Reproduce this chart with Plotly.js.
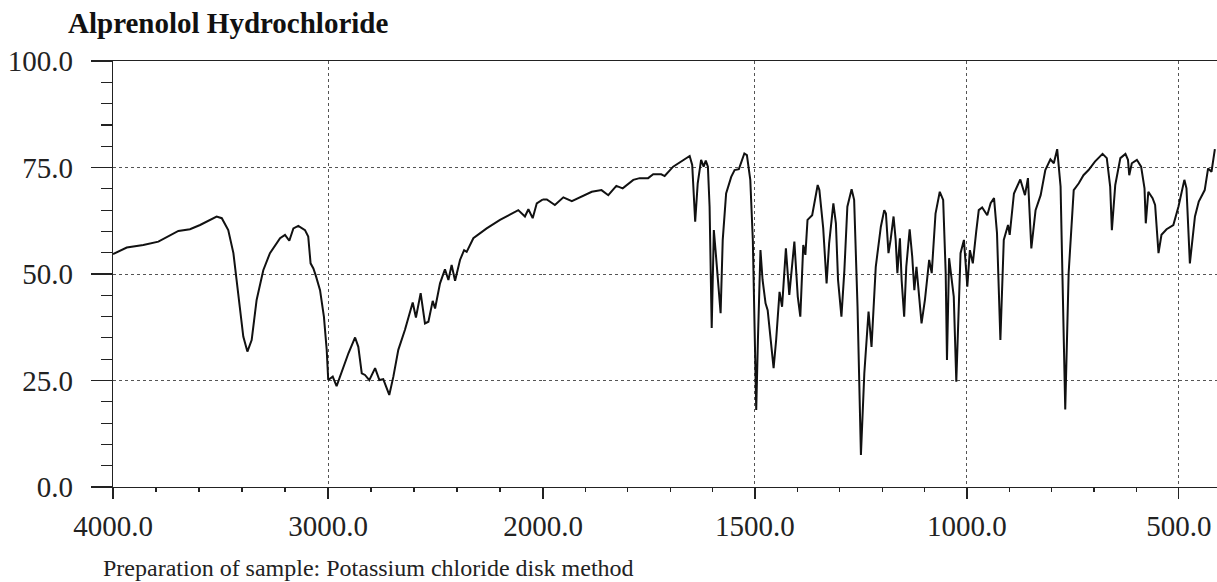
<!DOCTYPE html>
<html>
<head>
<meta charset="utf-8">
<script src="https://cdn.plot.ly/plotly-3.0.1.min.js"></script>
<style>html,body{margin:0;padding:0;background:#fff;}#chart{width:1217px;height:582px;}</style>
</head>
<body>
<div id="chart"></div>
<script>
// Wavenumber (cm-1) and transmittance (%)
const wavenumbers = [
  4000,3936,3859,3789,3696,3642,3595,3518,3494,3464,3440,3417,3394,3375,3355,3332,3301,3270,3223,3200,
  3180,3161,3138,3107,3092,3081,3068,3056,3037,3019,3006,2999,2978,2960,2936,2905,2874,2859,2843,2828,
  2808,2781,2761,2743,2715,2696,2673,2642,2606,2591,2569,2549,2533,2513,2502,2479,2456,2440,2425,2409,
  2386,2367,2355,2324,2262,2200,2115,2084,2068,2048,2029,2000,
  1991,1972,1952,1932,1913,1885,1862,1846,1827,1812,1787,1772,1752,1740,1721,1713,1693,1654,1648,1641,
  1635,1627,1621,1616,1611,1607,1602,1597,1593,1588,1581,1576,1568,1556,1548,1538,1525,1519,1511,1505,
  1501,1497,1493,1487,1482,1475,1470,1462,1456,1450,1442,1436,1427,1419,1407,1399,1393,1386,1381,1376,
  1365,1352,1348,1339,1331,1325,1315,1309,1304,1296,1289,1282,1272,1266,1258,1250,1242,1232,1225,1215,
  1203,1195,1191,1185,1180,1173,1168,1164,1158,1154,1148,1143,1135,1129,1124,1119,1113,1107,1099,1089,
  1083,1074,1064,1056,1050,1047,1042,1035,1031,1025,1019,1015,1007,999,993,986,978,972,964,952,
  944,936,929,921,913,903,899,889,874,863,856,848,838,826,815,803,795,787,779,774,
  768,760,748,736,725,713,698,680,670,662,658,650,638,626,620,617,611,599,589,581,
  578,572,562,556,548,541,529,513,501,487,482,474,462,453,439,431,423,415
];
const transmittance = [
  54.7,56.2,56.8,57.6,60.1,60.5,61.5,63.5,63.1,60.3,54.9,45.5,35.3,31.8,34.5,43.9,50.9,54.9,58.4,59.2,
  57.8,60.7,61.3,60.3,58.8,52.5,51.3,49.5,46.2,40.0,32.2,25.1,25.9,23.7,27.1,31.4,35.1,32.9,26.7,26.3,
  25.1,27.9,25.1,25.3,21.6,25.9,32.2,36.9,43.3,39.8,45.5,38.4,38.8,43.7,41.9,47.8,51.1,48.6,52.1,48.4,
  53.3,55.6,55.2,58.4,60.7,62.7,65.0,63.5,65.2,63.1,66.6,67.5,
  67.5,66.2,68.0,67.1,68.0,69.3,69.7,68.5,70.7,70.1,72.1,72.5,72.5,73.4,73.4,73.0,75.2,77.7,75.6,62.3,
  71.3,76.8,75.2,76.6,75.2,65.8,37.3,60.3,55.6,48.6,40.8,58.0,68.9,72.8,74.4,74.6,78.3,77.9,72.1,58.0,
  34.5,18.1,34.5,55.6,48.6,43.1,41.5,32.9,27.9,34.5,45.8,42.3,56.0,45.1,57.6,44.7,40.0,56.8,54.5,62.7,
  63.8,70.9,69.7,60.8,47.8,57.2,66.6,61.9,48.6,40.0,50.9,65.8,69.9,67.4,42.3,7.5,26.7,41.2,32.9,51.7,
  61.1,65.0,64.2,54.9,58.0,63.5,58.0,50.2,58.4,48.6,40.0,51.7,60.5,54.1,46.2,51.7,45.5,38.4,43.9,53.3,
  50.2,64.2,69.3,67.4,50.2,29.8,53.7,47.0,44.7,24.7,46.2,54.9,58.0,47.0,55.6,52.5,60.0,65.0,65.6,63.8,
  66.6,67.8,59.6,34.5,58.0,61.5,59.2,68.9,72.2,68.5,72.5,56.0,65.0,68.5,74.4,76.9,76.0,79.3,70.5,47.8,
  18.2,50.2,69.7,71.3,73.2,74.4,76.4,78.2,77.2,70.5,60.3,70.9,77.2,78.2,76.8,73.2,76.0,76.8,75.2,70.1,
  61.9,69.3,67.8,66.2,54.9,59.2,60.5,61.5,65.8,72.1,70.1,52.5,63.5,67.0,69.7,74.8,74.0,79.3
];
const xTicksHigh = [4000, 3000, 2000];
const xTicksLow = [1500, 1000, 500];
const yTicks = [0, 25, 50, 75, 100];
const titleText = "Alprenolol Hydrochloride";
const footerText = "Preparation of sample: Potassium chloride disk method";

const fmt = v => v.toFixed(1);
const hiX = [], hiY = [], loX = [], loY = [];
wavenumbers.forEach((w, i) => {
  if (w >= 2000) { hiX.push(w); hiY.push(transmittance[i]); }
  if (w <= 2000) { loX.push(w); loY.push(transmittance[i]); }
});

const W = 1217, L = 113, R = 0;
const split = (543 - L) / (W - L - R);
const serif = "Liberation Serif";
const tickFont = {family: serif, size: 29, color: "#222"};
const gridCol = "#555";

const lineStyle = {color: "#111", width: 2};
const traces = [
  {x: hiX, y: hiY, xaxis: "x", yaxis: "y", mode: "lines", line: lineStyle, hoverinfo: "x+y"},
  {x: loX, y: loY, xaxis: "x2", yaxis: "y", mode: "lines", line: lineStyle, hoverinfo: "x+y"}
];

const xCommon = {
  showline: true, linecolor: "#222", linewidth: 1.3, mirror: true,
  showgrid: true, gridcolor: gridCol, griddash: "dot", gridwidth: 1,
  ticks: "outside", ticklen: 11, tickwidth: 1.2, tickcolor: "#222",
  tickfont: tickFont, tickmode: "array", zeroline: false, fixedrange: true,
  ticklabelstandoff: 2
};

const layout = {
  width: W, height: 582,
  margin: {l: L, r: R, t: 61, b: 95, pad: 0},
  paper_bgcolor: "#fff", plot_bgcolor: "#fff",
  showlegend: false,
  font: {family: serif},
  title: {
    text: "<b>" + titleText + "</b>",
    font: {family: serif, size: 29, color: "#111"},
    xref: "container", yref: "container",
    x: 68 / W, xanchor: "left", y: 1 - 13 / 582, yanchor: "top"
  },
  xaxis: Object.assign({}, xCommon, {
    domain: [0, split], range: [4000, 2000], anchor: "y",
    tickvals: xTicksHigh, ticktext: xTicksHigh.map(fmt),
    minor: {tick0: 0, dtick: 200, ticks: "outside", ticklen: 4, tickcolor: "#222", showgrid: false}
  }),
  xaxis2: Object.assign({}, xCommon, {
    domain: [split, 1], range: [2000, 410], anchor: "y",
    tickvals: xTicksLow, ticktext: xTicksLow.map(fmt),
    minor: {tick0: 0, dtick: 100, ticks: "outside", ticklen: 4, tickcolor: "#222", showgrid: false}
  }),
  yaxis: {
    range: [0, 100], anchor: "x",
    tickmode: "array", tickvals: yTicks, ticktext: yTicks.map(fmt),
    showline: true, linecolor: "#222", linewidth: 1.3,
    showgrid: true, gridcolor: gridCol, griddash: "dot", gridwidth: 1,
    ticks: "outside", ticklen: 21, tickwidth: 1.2, tickcolor: "#222",
    minor: {tick0: 0, dtick: 5, ticks: "outside", ticklen: 11, tickcolor: "#222", showgrid: false},
    tickfont: tickFont, zeroline: false, fixedrange: true,
    ticklabelstandoff: 12
  },
  annotations: [{
    text: footerText, xref: "paper", yref: "paper",
    x: (101 - L) / (W - L - R), xanchor: "left",
    y: -(553 - 487) / 426, yanchor: "top", showarrow: false,
    font: {family: serif, size: 24, color: "#222"}
  }]
};

Plotly.newPlot("chart", traces, layout, {displayModeBar: false, staticPlot: true});
</script>
</body>
</html>
